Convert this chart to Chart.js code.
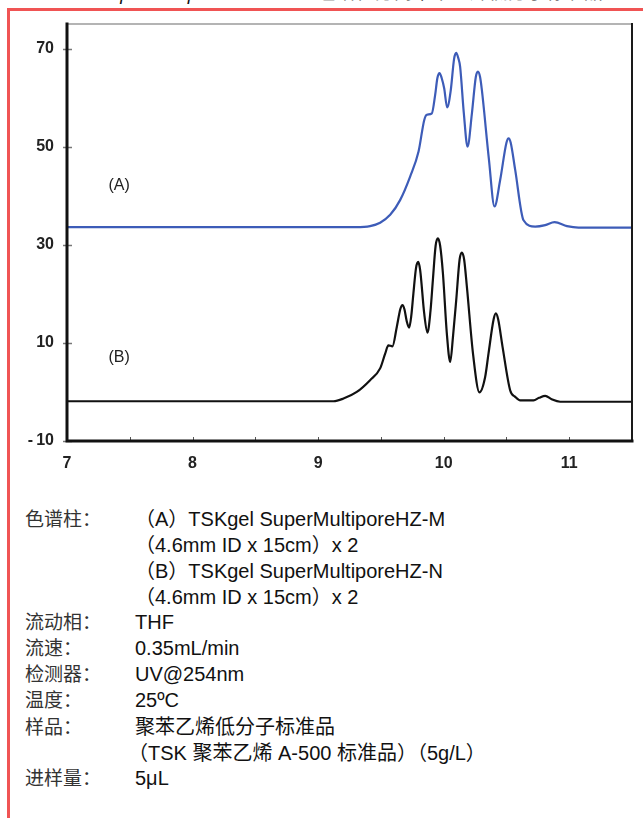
<!DOCTYPE html>
<html>
<head>
<meta charset="utf-8">
<script src="https://cdn.jsdelivr.net/npm/chart.js@4"></script>
<style>
  html, body { margin: 0; padding: 0; background: #fff; }
  body { width: 643px; height: 818px; overflow: hidden; position: relative; }
  .frame-red { position: absolute; left: 7px; top: 8px; width: 800px; height: 1000px;
               border-left: 3px solid #f05454; border-top: 3px solid #f05454; }
  .title { position: absolute; line-height: 19px; white-space: nowrap;
           font: italic 19px "Liberation Sans", "Noto Sans CJK SC", sans-serif; color: #111; }
  #wrap { position: absolute; left: 0; top: 0; width: 643px; height: 481px; }
  .info { position: absolute; left: 0; top: 503px; width: 643px; }
  .row { height: 26px; line-height: 26px; padding-left: 25px; white-space: nowrap;
         font: 20px "Liberation Sans", "Noto Sans CJK SC", sans-serif; color: #111; }
  .lab { display: inline-block; width: 110px; font-size: 19px; font-family: "Noto Sans CJK SC", sans-serif; color: #333; }
  .ind { display: inline-block; width: 103px; }
</style>
</head>
<body>
<div class="frame-red"></div>
<div class="title" style="left:97px; top:-17px">SuperMultiporeHZ-M</div>
<div class="title" style="left:318px; top:-23px">色谱柱分离聚苯乙烯低分子标准品</div>
<div id="wrap"><canvas id="c"></canvas></div>

<div class="info">
  <div class="row"><span class="lab">色谱柱：</span>（A）TSKgel SuperMultiporeHZ-M</div>
  <div class="row"><span class="lab"></span>（4.6mm ID x 15cm）x 2</div>
  <div class="row"><span class="lab"></span>（B）TSKgel SuperMultiporeHZ-N</div>
  <div class="row"><span class="lab"></span>（4.6mm ID x 15cm）x 2</div>
  <div class="row"><span class="lab">流动相：</span>THF</div>
  <div class="row"><span class="lab">流速：</span>0.35mL/min</div>
  <div class="row"><span class="lab">检测器：</span>UV@254nm</div>
  <div class="row"><span class="lab">温度：</span>25ºC</div>
  <div class="row"><span class="lab">样品：</span>聚苯乙烯低分子标准品</div>
  <div class="row"><span class="ind"></span>（TSK 聚苯乙烯 A-500 标准品）（5g/L）</div>
  <div class="row"><span class="lab">进样量：</span>5μL</div>
</div>

<script>
// Elution time (min) and detector response for column (A), offset upward
const timeA = [7.0, 9.0, 9.3, 9.414, 9.494, 9.574, 9.653, 9.733, 9.80, 9.845, 9.866, 9.906, 9.932,
  9.950, 9.967, 9.984, 10.004, 10.028, 10.057, 10.083, 10.100, 10.117, 10.131, 10.16, 10.19,
  10.225, 10.256, 10.273, 10.290, 10.304, 10.36, 10.405, 10.45, 10.500, 10.517, 10.534, 10.570,
  10.636, 10.729, 10.809, 10.883, 10.982, 11.074, 11.5];
const signalA = [33.6, 33.6, 33.6, 33.8, 34.5, 36.1, 39.1, 43.9, 49.0, 55.4, 56.5, 56.8, 60.5,
  64.0, 65.0, 64.0, 61.9, 58.0, 61.6, 67.9, 69.1, 68.0, 66.3, 57.0, 50.0,
  56.8, 64.2, 65.3, 64.2, 61.6, 47.5, 37.8, 43.2, 50.8, 51.7, 50.8, 45.2,
  35.0, 33.7, 34.0, 34.6, 33.8, 33.5, 33.5];

// Elution time (min) and detector response for column (B)
const timeB = [7.0, 8.857, 9.122, 9.202, 9.308, 9.414, 9.494, 9.534, 9.560, 9.592, 9.627,
  9.655, 9.672, 9.688, 9.705, 9.725, 9.742, 9.759, 9.780, 9.797, 9.813, 9.845, 9.871,
  9.895, 9.914, 9.936, 9.954, 9.972, 9.994, 10.025, 10.052, 10.075, 10.100, 10.127, 10.145,
  10.163, 10.185, 10.235, 10.285, 10.33, 10.357, 10.398, 10.416, 10.434, 10.469, 10.530,
  10.570, 10.610, 10.716, 10.76, 10.809, 10.86, 10.928, 11.5];
const signalB = [-1.9, -1.9, -1.9, -1.35, 0.0, 2.4, 4.8, 7.8, 9.5, 9.3, 13.3,
  16.9, 17.7, 16.8, 14.5, 13.1, 15.5, 20.1, 25.3, 26.5, 24.8, 16.0, 12.1,
  16.5, 22.8, 29.8, 31.3, 29.8, 24.2, 12.0, 6.1, 11.5, 18.7, 27.0, 28.4,
  27.0, 21.4, 7.5, -0.1, 3.0, 7.8, 14.8, 16.0, 14.8, 9.2, 0.3,
  -1.0, -1.7, -1.7, -1.2, -0.8, -1.5, -2.0, -2.0];

// Axis ticks
const xTickValues = [7, 8, 9, 10, 11];
const xMinorTicks = [7.5, 8, 8.5, 9, 9.5, 10, 10.5, 11];
const yTickValues = [-10, 10, 30, 50, 70];

const toPoints = (xs, ys) => xs.map((x, i) => ({ x, y: ys[i] }));

const tickFont = { family: "'Liberation Sans', Arial, sans-serif", size: 16, weight: 'bold' };

// Box frame, tick marks and trace tags drawn over the plot
const framePlugin = {
  id: 'framePlugin',
  afterDraw(chart) {
    const { ctx, chartArea: a, scales: { x, y } } = chart;
    ctx.save();
    // tick marks
    ctx.strokeStyle = '#777';
    ctx.lineWidth = 1.5;
    yTickValues.forEach(v => {
      const py = Math.round(y.getPixelForValue(v)) + 0.5;
      ctx.beginPath(); ctx.moveTo(a.left - 4, py); ctx.lineTo(a.left + 5, py); ctx.stroke();
    });
    ctx.strokeStyle = '#555';
    ctx.lineWidth = 1;
    xMinorTicks.forEach(v => {
      const px = Math.round(x.getPixelForValue(v)) + 0.5;
      ctx.beginPath(); ctx.moveTo(px, a.bottom); ctx.lineTo(px, a.bottom - 4); ctx.stroke();
    });
    // frame
    ctx.lineCap = 'square';
    ctx.strokeStyle = '#b4b4b4'; ctx.lineWidth = 2;
    ctx.beginPath(); ctx.moveTo(a.left, a.top); ctx.lineTo(a.right, a.top); ctx.stroke();
    ctx.strokeStyle = '#1a1a1a'; ctx.lineWidth = 2;
    ctx.beginPath(); ctx.moveTo(a.right, a.top); ctx.lineTo(a.right, a.bottom); ctx.stroke();
    ctx.strokeStyle = '#111'; ctx.lineWidth = 3;
    ctx.beginPath(); ctx.moveTo(a.left, a.top); ctx.lineTo(a.left, a.bottom); ctx.lineTo(a.right, a.bottom); ctx.stroke();
    // trace tags
    ctx.fillStyle = '#222';
    ctx.font = "16px 'Liberation Sans', Arial, sans-serif";
    ctx.textBaseline = 'middle';
    ctx.textAlign = 'left';
    ctx.fillText('(A)', x.getPixelForValue(7.33), y.getPixelForValue(42));
    ctx.fillText('(B)', x.getPixelForValue(7.33), y.getPixelForValue(7.1));
    ctx.restore();
  }
};

new Chart(document.getElementById('c'), {
  type: 'line',
  data: {
    datasets: [
      { label: 'A', data: toPoints(timeA, signalA), borderColor: '#3d5cb8', borderWidth: 2.2,
        pointRadius: 0, cubicInterpolationMode: 'monotone', fill: false },
      { label: 'B', data: toPoints(timeB, signalB), borderColor: '#111', borderWidth: 2.2,
        pointRadius: 0, cubicInterpolationMode: 'monotone', fill: false }
    ]
  },
  options: {
    responsive: true,
    maintainAspectRatio: false,
    animation: false,
    layout: { padding: { top: 24, right: 11, left: 0, bottom: 0 } },
    plugins: { legend: { display: false }, tooltip: { enabled: false } },
    scales: {
      x: {
        type: 'linear', min: 7, max: 11.5,
        afterBuildTicks: s => { s.ticks = xTickValues.map(v => ({ value: v })); },
        afterFit: s => { s.height = 40; },
        grid: { display: false, drawTicks: false }, border: { display: false },
        ticks: { font: tickFont, color: '#222', padding: 13, maxRotation: 0, autoSkip: false,
                 callback: v => String(v) }
      },
      y: {
        type: 'linear', min: -10, max: 75,
        afterBuildTicks: s => { s.ticks = yTickValues.map(v => ({ value: v })); },
        afterFit: s => { s.width = 67; },
        grid: { display: false, drawTicks: false }, border: { display: false },
        ticks: { font: tickFont, color: '#222', padding: 13, autoSkip: false,
                 callback: v => (v < 0 ? '-\u2009' + Math.abs(v) : String(v)) }
      }
    }
  },
  plugins: [framePlugin]
});
</script>
</body>
</html>
